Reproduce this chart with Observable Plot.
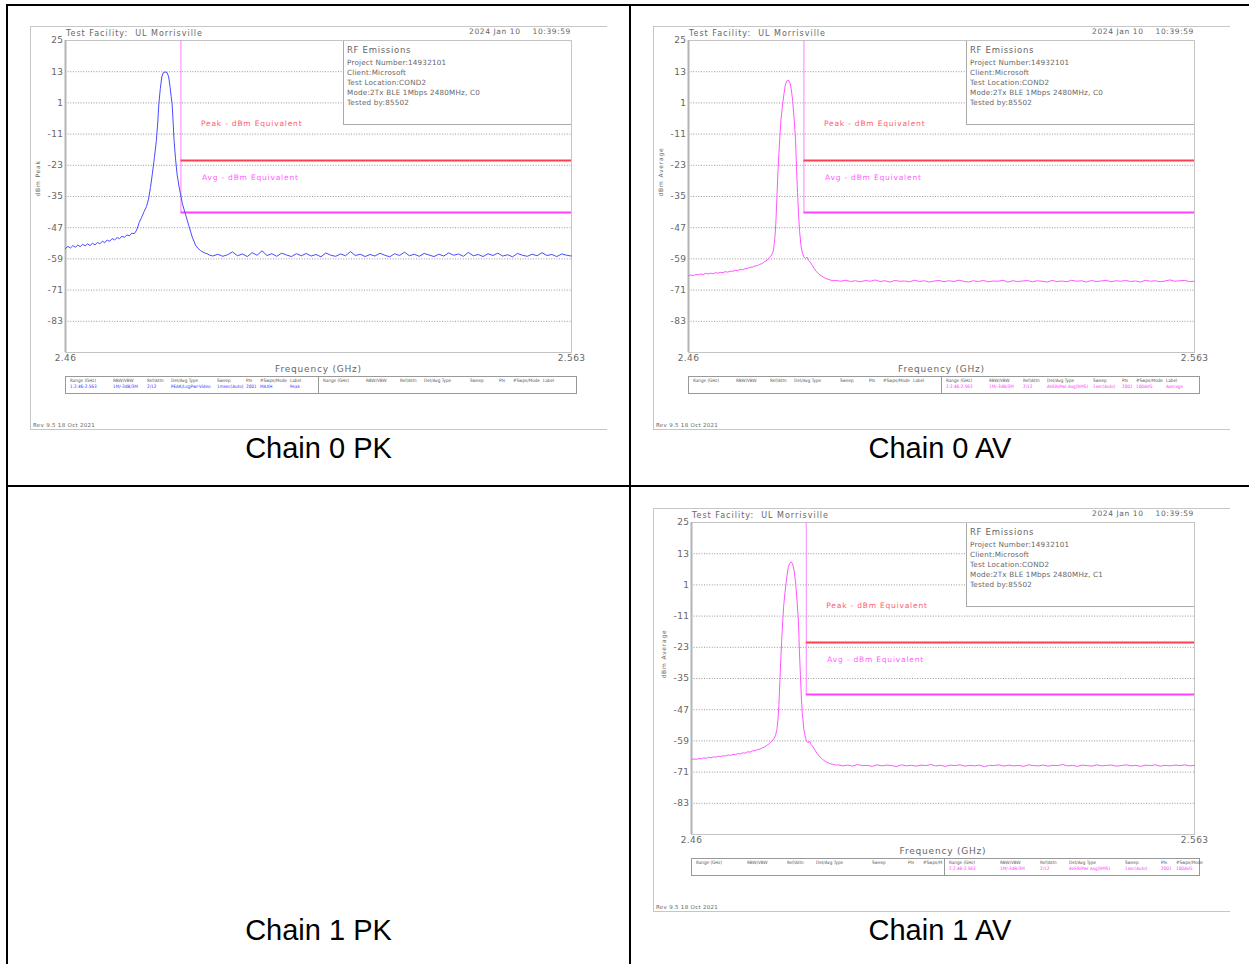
<!DOCTYPE html>
<html><head><meta charset="utf-8">
<script src="https://cdn.jsdelivr.net/npm/d3@7"></script>
<script src="https://cdn.jsdelivr.net/npm/@observablehq/plot@0.6"></script>
<style>
body{margin:0;background:#fff;}
#page{position:relative;width:1249px;height:964px;overflow:hidden;font-family:"DejaVu Sans",sans-serif;}
.bar{position:absolute;background:#000;}
.caption{position:absolute;font-family:"Liberation Sans",Arial,sans-serif;font-size:29px;line-height:29px;color:#000;text-align:center;white-space:nowrap;}
.shot{position:absolute;width:577px;height:404px;}
.shot svg{position:absolute;left:0;top:0;}
.shot svg text{letter-spacing:0.4px;}
.shot svg g[aria-label="text"] text{letter-spacing:0.8px;}
.edge{position:absolute;left:0;top:0;width:577px;height:404px;box-sizing:border-box;border-top:1px solid #c6c6c6;border-left:1px solid #c6c6c6;border-bottom:1px solid #c6c6c6;pointer-events:none;}
.t{position:absolute;white-space:nowrap;color:#666;letter-spacing:0.5px;}
.info{position:absolute;box-sizing:border-box;border-left:1px solid #aaa;border-bottom:1px solid #aaa;background:#fff;}
.set{position:absolute;box-sizing:border-box;border:1px solid #999;background:#fff;}
.cell{position:absolute;white-space:nowrap;font-size:4.6px;line-height:6px;font-family:"DejaVu Sans Condensed","DejaVu Sans",sans-serif;font-stretch:condensed;}
</style>
</head><body><div id="page"></div>
<script>
// ---------- data ----------
const captions = ["Chain 0 PK", "Chain 0 AV", "Chain 1 PK", "Chain 1 AV"];
const freqSpan = [2.46, 2.563];          // GHz
const levelSpan = [-95, 25];             // dBm
const yTicks = [25, 13, 1, -11, -23, -35, -47, -59, -71, -83];
const gridLevels = [13, 1, -11, -23, -35, -47, -59, -71, -83];
const limitFreq = 2.4835;                // restricted band edge (GHz)
const peakLimit = -21.2;                 // dBm equivalent
const avgLimit = -41.2;                  // dBm equivalent

const facility = "Test Facility:&nbsp; UL Morrisville";
const stamp = "2024 Jan 10&nbsp;&nbsp;&nbsp; 10:39:59";
const infoTitle = "RF Emissions";
const infoLines0 = ["Project Number:14932101", "Client:Microsoft", "Test Location:COND2", "Mode:2Tx BLE 1Mbps 2480MHz, C0", "Tested by:85502"];
const infoLines1 = ["Project Number:14932101", "Client:Microsoft", "Test Location:COND2", "Mode:2Tx BLE 1Mbps 2480MHz, C1", "Tested by:85502"];
const revText = "Rev 9.5 18 Oct 2021";
const setHeaders = ["Range (GHz)", "RBW/VBW", "Ref/Attn", "Det/Avg Type", "Sweep", "Pts", "#Swps/Mode", "Label"];
const setHeadersShort = ["Range (GHz)", "RBW/VBW", "Ref/Attn", "Det/Avg Type", "Sweep", "Pts", "#Swps/M"];
const setPeakValues = ["1:2.46-2.563", "1M/-3dB/3M", "2/12", "PEAK/LogPwr-Video", "1msec(Auto)", "2001", "MAXH", "Peak"];
const setAvgValues = ["2:2.46-2.563", "1M/-3dB/3M", "2/12", "AVER/Pwr Avg(RMS)", "1sec(Auto)", "2001", "100AVG", "Average"];

// sweep points (GHz)
const sweepLow = [2.4600,2.4605,2.4610,2.4615,2.4620,2.4625,2.4630,2.4635,2.4640,2.4645,
  2.4650,2.4655,2.4660,2.4665,2.4670,2.4675,2.4680,2.4685,2.4690,2.4695,
  2.4700,2.4705,2.4710,2.4715,2.4720,2.4725,2.4730,2.4735,2.4740,2.4745];
const sweepHigh = [2.490,2.491,2.492,2.493,2.494,2.495,2.496,2.497,2.498,2.499,
  2.500,2.501,2.502,2.503,2.504,2.505,2.506,2.507,2.508,2.509,
  2.510,2.511,2.512,2.513,2.514,2.515,2.516,2.517,2.518,2.519,
  2.520,2.521,2.522,2.523,2.524,2.525,2.526,2.527,2.528,2.529,
  2.530,2.531,2.532,2.533,2.534,2.535,2.536,2.537,2.538,2.539,
  2.540,2.541,2.542,2.543,2.544,2.545,2.546,2.547,2.548,2.549,
  2.550,2.551,2.552,2.553,2.554,2.555,2.556,2.557,2.558,2.559,
  2.560,2.561,2.562,2.563];

// Chain 0 PK (dBm)
const pk0Low = [-55.0,-54.2,-54.8,-53.9,-54.5,-53.7,-54.3,-53.4,-54.0,-53.2,
  -53.9,-53.0,-53.6,-52.7,-53.2,-52.2,-52.7,-51.8,-52.2,-51.2,
  -51.7,-50.8,-51.2,-50.3,-50.7,-49.8,-50.1,-49.1,-49.3,-47.9];
const pk0PeakFreq = [2.4750,2.4755,2.4760,2.4765,2.4769,2.4773,2.4777,2.4781,2.4785,2.4788,
  2.4790,2.4793,2.4796,2.4799,2.4803,2.4807,2.4810,2.4813,2.4815,2.4817,
  2.4819,2.4821,2.4824,2.4827,2.4831,2.4834,2.4838,2.4844,2.4851,2.4858,
  2.4865,2.4870,2.4875,2.4882,2.4888,2.4894];
const pk0PeakLevel = [-45.0,-43.0,-40.8,-38.8,-36.0,-31.5,-26.0,-20.0,-13.5,-6.0,
  0.6,6.5,11.0,12.6,12.9,12.6,11.0,7.0,3.5,0.6,
  -6.0,-13.5,-20.5,-26.3,-31.0,-34.0,-37.8,-41.7,-46.2,-50.6,
  -53.8,-55.0,-55.8,-56.6,-57.0,-57.6];
const pk0High = [-57.9,-57.2,-58.0,-57.4,-56.3,-57.8,-57.1,-58.1,-56.6,-57.6,
  -55.9,-57.7,-57.0,-58.0,-56.8,-57.5,-58.1,-57.0,-57.8,-56.9,
  -57.9,-57.3,-58.2,-56.7,-57.6,-58.0,-57.1,-57.8,-56.2,-57.7,
  -57.2,-58.1,-57.3,-57.9,-56.8,-57.6,-58.2,-57.0,-57.7,-56.4,
  -57.8,-57.2,-58.0,-56.9,-57.5,-58.1,-57.2,-57.9,-56.7,-57.6,
  -57.1,-58.0,-56.5,-57.8,-57.3,-58.1,-57.0,-57.7,-56.8,-57.9,
  -57.4,-58.2,-56.9,-57.6,-58.0,-57.2,-57.8,-56.6,-57.7,-57.3,
  -58.1,-57.1,-57.6,-57.9];

// Chain 0 AV (dBm)
const av0Low = [-65.5,-65.2,-65.4,-65.0,-65.1,-64.8,-65.0,-64.6,-64.8,-64.5,
  -64.7,-64.3,-64.5,-64.2,-64.3,-63.9,-64.1,-63.7,-63.8,-63.4,
  -63.5,-63.1,-63.2,-62.8,-62.7,-62.2,-62.2,-61.7,-61.6,-61.1];
const av0PeakFreq = [2.4750,2.4755,2.4760,2.4765,2.4769,2.4772,2.4774,2.4776,2.4778,2.4780,
  2.4782,2.4784,2.4786,2.4788,2.4791,2.4794,2.4797,2.4800,2.4803,2.4806,
  2.4809,2.4812,2.4815,2.4818,2.4820,2.4822,2.4824,2.4826,2.4829,2.4832,
  2.4835,2.4838,2.4841,2.4844,2.4848,2.4852,2.4856,2.4860,2.4865,2.4870,
  2.4876,2.4882,2.4888,2.4895];
const av0PeakLevel = [-60.8,-60.0,-59.5,-58.4,-57.5,-56.4,-54.0,-50.5,-44.5,-35.0,
  -26.0,-18.5,-12.0,-6.0,-0.5,4.0,7.8,9.4,9.8,9.0,
  6.5,2.0,-5.0,-13.5,-25.0,-33.5,-42.0,-48.0,-54.0,-56.8,
  -58.3,-58.9,-58.3,-59.5,-60.3,-61.5,-62.8,-63.8,-64.7,-65.5,
  -66.2,-66.7,-67.1,-67.4];
const av0High = [-67.3,-67.6,-67.2,-67.7,-67.4,-67.8,-67.3,-67.6,-67.1,-67.7,
  -67.4,-67.9,-67.3,-67.6,-67.5,-67.8,-67.2,-67.7,-67.4,-67.9,
  -67.5,-67.3,-67.8,-67.4,-67.7,-67.2,-67.6,-67.9,-67.4,-67.7,
  -67.3,-67.8,-67.5,-67.6,-67.2,-67.9,-67.4,-67.7,-67.5,-67.3,
  -67.8,-67.4,-67.6,-67.9,-67.3,-67.7,-67.5,-67.8,-67.2,-67.6,
  -67.4,-67.9,-67.3,-67.7,-67.5,-67.2,-67.8,-67.4,-67.6,-67.3,
  -67.7,-67.5,-67.9,-67.2,-67.6,-67.4,-67.8,-67.5,-67.1,-67.6,
  -67.4,-67.3,-67.7,-67.6];

// Chain 1 AV (dBm)
const av1Low = [-66.2,-65.9,-66.1,-65.8,-65.9,-65.5,-65.7,-65.3,-65.5,-65.1,
  -65.3,-64.9,-65.0,-64.7,-64.8,-64.4,-64.6,-64.2,-64.3,-63.9,
  -64.0,-63.6,-63.7,-63.2,-63.3,-62.8,-62.8,-62.3,-62.2,-61.7];
const av1PeakFreq = [2.4750,2.4755,2.4760,2.4765,2.4769,2.4772,2.4775,2.4777,2.4779,2.4781,
  2.4783,2.4785,2.4787,2.4789,2.4792,2.4795,2.4798,2.4801,2.4804,2.4807,
  2.4810,2.4813,2.4816,2.4819,2.4821,2.4823,2.4825,2.4827,2.4830,2.4833,
  2.4836,2.4839,2.4842,2.4845,2.4849,2.4853,2.4857,2.4861,2.4866,2.4871,
  2.4877,2.4883,2.4889,2.4895];
const av1PeakLevel = [-61.3,-60.6,-60.0,-59.0,-58.0,-57.0,-54.5,-51.0,-45.0,-36.0,
  -27.0,-19.0,-12.5,-6.5,-1.0,3.8,7.6,9.3,9.9,9.1,
  6.6,2.2,-4.8,-13.0,-24.5,-33.5,-42.5,-48.5,-54.5,-57.6,
  -59.2,-59.8,-59.1,-60.4,-61.3,-62.6,-63.8,-64.8,-65.7,-66.5,
  -67.2,-67.7,-68.0,-68.3];
const av1High = [-68.2,-68.6,-68.3,-68.7,-68.1,-68.5,-68.4,-68.8,-68.2,-68.6,
  -68.3,-68.5,-68.9,-68.2,-68.6,-68.4,-68.7,-68.3,-68.5,-68.1,
  -68.6,-68.4,-68.8,-68.3,-68.5,-68.2,-68.7,-68.4,-68.6,-68.3,
  -68.9,-68.4,-68.5,-68.2,-68.7,-68.3,-68.6,-68.4,-68.8,-68.2,
  -68.5,-68.6,-68.3,-68.7,-68.4,-68.5,-68.1,-68.6,-68.4,-68.8,
  -68.3,-68.5,-68.7,-68.2,-68.6,-68.4,-68.3,-68.7,-68.5,-68.2,
  -68.6,-68.4,-68.8,-68.3,-68.5,-68.2,-68.7,-68.4,-68.6,-68.3,
  -68.5,-68.2,-68.6,-68.4];

// ---------- drawing ----------
const page = document.getElementById("page");
function addDiv(cls, style, html) {
  const d = document.createElement("div");
  d.className = cls; d.setAttribute("style", style); if (html != null) d.innerHTML = html;
  page.appendChild(d); return d;
}
// table rules
addDiv("bar", "left:6px;top:4px;width:1243px;height:2px");
addDiv("bar", "left:6px;top:4px;width:2px;height:960px");
addDiv("bar", "left:629px;top:4px;width:2px;height:960px");
addDiv("bar", "left:6px;top:485px;width:1243px;height:2px");
// captions
addDiv("caption", "left:8px;top:434px;width:621px", captions[0]);
addDiv("caption", "left:631px;top:434px;width:618px", captions[1]);
addDiv("caption", "left:8px;top:916px;width:621px", captions[2]);
addDiv("caption", "left:631px;top:916px;width:618px", captions[3]);

function series(lowLv, peakF, peakLv, highLv) {
  const f = [...sweepLow, ...peakF, ...sweepHigh];
  const v = [...lowLv, ...peakLv, ...highLv];
  return f.map((x, i) => ({f: x, v: v[i]}));
}

function spectrum(cfg) {
  return Plot.plot({
    width: 577, height: 404,
    marginLeft: cfg.ml, marginRight: 36, marginTop: 14, marginBottom: 78,
    x: {domain: freqSpan, axis: null},
    y: {domain: levelSpan, axis: null},
    style: {fontFamily: "DejaVu Sans, sans-serif", background: "transparent", color: "#666", overflow: "visible"},
    marks: [
      Plot.ruleY(gridLevels, {stroke: "#8c8c8c", strokeDasharray: "1,1.6", strokeWidth: 0.9}),
      Plot.frame({stroke: "#c4c4c4"}),
      Plot.ruleX([freqSpan[0]], {stroke: "#b4b4b4", strokeWidth: 2}),
      Plot.axisY({ticks: yTicks, tickSize: 0, tickPadding: 2, fontSize: 9, label: null, tickFormat: d => String(d), fill: "#666"}),
      Plot.axisX({ticks: freqSpan, tickSize: 0, tickPadding: 2, fontSize: 9, label: null, tickFormat: d => String(d), fill: "#666"}),
      Plot.text([cfg.ylabel], {frameAnchor: "left", rotate: -90, dx: -27, fontSize: 6, fill: "#666"}),
      Plot.text(["Frequency (GHz)"], {frameAnchor: "bottom", dy: 19, fontSize: 9, fill: "#666"}),
      Plot.ruleX([limitFreq], {y1: levelSpan[1], y2: avgLimit, stroke: "#ff80ff", strokeWidth: 1}),
      Plot.ruleY([peakLimit], {x1: limitFreq, x2: freqSpan[1], stroke: "#ff3f50", strokeWidth: 2}),
      Plot.ruleY([avgLimit], {x1: limitFreq, x2: freqSpan[1], stroke: "#ff40ff", strokeWidth: 2}),
      Plot.text([{f: limitFreq, v: peakLimit}], {x: "f", y: "v", text: () => "Peak - dBm Equivalent", textAnchor: "start", dx: 20, dy: -37, fontSize: 7.5, fill: "#ff5a6a"}),
      Plot.text([{f: limitFreq, v: avgLimit}], {x: "f", y: "v", text: () => "Avg - dBm Equivalent", textAnchor: "start", dx: 21, dy: -35, fontSize: 7.5, fill: "#ff5cff"}),
      Plot.line(cfg.data, {x: "f", y: "v", stroke: cfg.color, strokeWidth: 1})
    ]
  });
}

function settingsHTML(cols, leftHeaders, rightHeaders, leftVals, rightVals, valColor) {
  let h = "";
  const half = 253;
  [0, half].forEach((off, side) => {
    const vals = side === 0 ? leftVals : rightVals;
    const heads = side === 0 ? leftHeaders : rightHeaders;
    cols.forEach((c, i) => {
      h += `<div class="cell" style="left:${off + c}px;top:0.5px;color:#555">${heads[i]}</div>`;
      if (vals) h += `<div class="cell" style="left:${off + c}px;top:7px;color:${valColor}">${vals[i]}</div>`;
    });
  });
  h += `<div style="position:absolute;left:${half - 1}px;top:0;width:1px;height:100%;background:#999"></div>`;
  return h;
}

function panel(cfg) {
  const el = document.createElement("div");
  el.className = "shot";
  el.style.left = cfg.left + "px"; el.style.top = cfg.top + "px";
  page.appendChild(el);
  const svg = spectrum(cfg);
  el.appendChild(svg);
  const ml = cfg.ml;
  el.insertAdjacentHTML("beforeend", `
    <div class="edge"></div>
    <div class="t" style="left:${ml + 1}px;top:3px;font-size:8px;line-height:10px;letter-spacing:1px">${facility}</div>
    <div class="t" style="right:36px;top:0.5px;font-size:7.5px;line-height:10px;letter-spacing:0.6px">${stamp}</div>
    <div class="info" style="left:313px;top:15px;width:228px;height:84px">
      <div class="t" style="left:3px;top:3.5px;font-size:8.5px;line-height:10px;letter-spacing:0.7px">${infoTitle}</div>
      ${cfg.info.map((l, i) => `<div class="t" style="left:3px;top:${17 + i * 10}px;font-size:7.2px;line-height:10px;letter-spacing:0.2px">${l}</div>`).join("")}
    </div>
    <div class="set" style="left:${ml}px;top:350px;width:${547 - ml}px;height:18px">
      ${settingsHTML(cfg.cols, cfg.leftHeaders, cfg.rightHeaders, cfg.leftVals, cfg.rightVals, cfg.valColor)}
    </div>
    <div class="t" style="left:3px;top:396px;font-size:5.5px;line-height:7px;letter-spacing:0.3px">${revText}</div>
  `);
}

const colsA = [4, 47, 81, 105, 151, 180, 194, 224];
const colsB = [4, 55, 95, 124, 180, 216, 231];

panel({left: 30, top: 26, ml: 35, color: "#4a4aff", ylabel: "dBm Peak",
  data: series(pk0Low, pk0PeakFreq, pk0PeakLevel, pk0High), info: infoLines0,
  cols: colsA, leftHeaders: setHeaders, rightHeaders: setHeaders, leftVals: setPeakValues, rightVals: null, valColor: "#3333ff"});
panel({left: 653, top: 26, ml: 35, color: "#ff55ff", ylabel: "dBm Average",
  data: series(av0Low, av0PeakFreq, av0PeakLevel, av0High), info: infoLines0,
  cols: colsA, leftHeaders: setHeaders, rightHeaders: setHeaders, leftVals: null, rightVals: setAvgValues, valColor: "#ff33ff"});
panel({left: 653, top: 508, ml: 38, color: "#ff55ff", ylabel: "dBm Average",
  data: series(av1Low, av1PeakFreq, av1PeakLevel, av1High), info: infoLines1,
  cols: colsB, leftHeaders: setHeadersShort, rightHeaders: setHeaders.slice(0, 7), leftVals: null, rightVals: setAvgValues.slice(0, 7), valColor: "#ff33ff"});
</script>
</body></html>
